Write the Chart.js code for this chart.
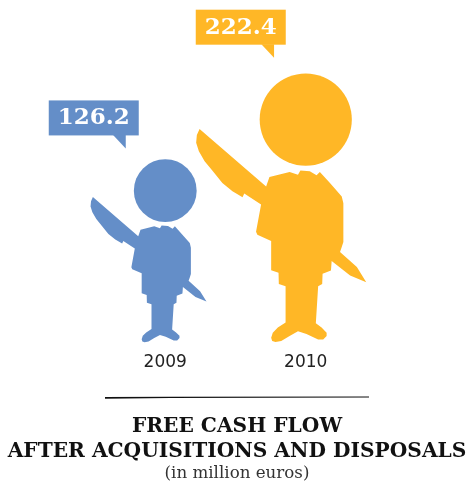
<!DOCTYPE html>
<html>
<head>
<meta charset="utf-8">
<style>
  html, body { margin: 0; padding: 0; background: #fff; }
  #wrap { width: 469px; height: 483px; }
</style>
<script src="https://cdn.jsdelivr.net/npm/chart.js@4"></script>
</head>
<body>
<div id="wrap"><canvas id="chart"></canvas></div>
<script>
const years = ["2009", "2010"];
const cashFlow = [126.2, 222.4];
const figureColors = ["#648EC8", "#FFB726"];
const titleLines = ["FREE CASH FLOW", "AFTER ACQUISITIONS AND DISPOSALS"];
const subtitleText = "(in million euros)";

// The figures are not drawn from zero in the original, the scale starts below it.
const axisMin = -79.8;
const axisMax = 293.7;

// Silhouette outline, in units of a figure 267 tall, from the feet centre.
const figureHeight = 267;
const headCentre = -221.3;
const headRadius = 45.7;
const bodyOutline = [
  [-105.3, -212], [-108, -206], [-108.7, -198.3], [-106, -190], [-100.3, -180], [-92.7, -170.7],
  [-82.7, -158.3], [-72.7, -150.3], [-62.7, -144.3], [-61, -148], [-44.3, -137], [-49.3, -110], [-48, -107],
  [-34.3, -101], [-34.3, -72], [-27, -69.3], [-26.7, -58.3], [-20, -56], [-20, -20],
  [-27.7, -15], [-32.7, -10], [-34.3, -5], [-33.3, -1.7], [-30, -0.7], [-24.3, -1.7], [-16, -6.7],
  [-7.7, -11.3], [0.7, -8.7], [12.3, -3.3], [17.3, -3.3], [20.7, -6.7], [20.7, -10], [15.7, -15],
  [10, -19.3], [12.3, -56], [16.3, -58.3], [16.7, -68.3], [25, -71.7], [25.7, -81], [44, -66.7],
  [60, -60], [50.7, -75], [34, -90], [35.7, -95], [37.3, -100], [37.3, -138.3], [35.7, -145],
  [24, -158.3], [14, -169.3], [10.7, -166], [4, -170], [-5.3, -170.7], [-7.7, -166.7],
  [-16, -169.3], [-36, -164.3], [-39.3, -155]
];

const calloutLeft = [-116.5, -110];
const calloutTipX = [-39.5, -31.7];

const figurePlugin = {
  id: "figures",
  afterDatasetsDraw(chart) {
    const ctx = chart.ctx;
    const bars = chart.getDatasetMeta(0).data;

    bars.forEach((bar, i) => {
      const scale = (bar.base - bar.y) / figureHeight;
      const color = figureColors[i];

      ctx.save();
      ctx.fillStyle = color;
      ctx.lineJoin = "round";

      ctx.beginPath();
      bodyOutline.forEach(([dx, dy], j) => {
        const px = bar.x + dx * scale;
        const py = bar.base + dy * scale;
        if (j === 0) ctx.moveTo(px, py);
        else ctx.lineTo(px, py);
      });
      ctx.closePath();
      ctx.fill();

      ctx.beginPath();
      ctx.arc(bar.x, bar.base + headCentre * scale, headRadius * scale, 0, Math.PI * 2);
      ctx.fill();

      // Speech bubble with the value, sits just above the head.
      const tipX = bar.x + calloutTipX[i];
      const tipY = bar.y - 15.7 * scale;
      const boxW = 90;
      const boxH = 35;
      const boxX = bar.x + calloutLeft[i];
      const boxY = tipY - 13 - boxH;

      ctx.fillRect(boxX, boxY, boxW, boxH);
      ctx.beginPath();
      ctx.moveTo(tipX - 12.7, boxY + boxH - 0.5);
      ctx.lineTo(tipX, tipY);
      ctx.lineTo(tipX, boxY + boxH - 0.5);
      ctx.closePath();
      ctx.fill();

      ctx.fillStyle = "#fff";
      ctx.font = "bold 23px 'DejaVu Serif'";
      ctx.textAlign = "center";
      ctx.textBaseline = "alphabetic";
      ctx.fillText(cashFlow[i].toFixed(1), boxX + boxW / 2, boxY + 24);
      ctx.restore();
    });

    // Rule above the title, a little heavier on its left end.
    ctx.save();
    ctx.fillStyle = "#111";
    ctx.beginPath();
    ctx.moveTo(105, 397);
    ctx.lineTo(170, 396.8);
    ctx.lineTo(369, 396.6);
    ctx.lineTo(369, 397.6);
    ctx.lineTo(170, 398);
    ctx.lineTo(105, 398.8);
    ctx.closePath();
    ctx.fill();
    ctx.restore();
  }
};

new Chart(document.getElementById("chart"), {
  type: "bar",
  data: {
    labels: years,
    datasets: [{
      data: cashFlow,
      base: axisMin,
      backgroundColor: "rgba(0, 0, 0, 0)",
      borderWidth: 0
    }]
  },
  plugins: [figurePlugin],
  options: {
    responsive: true,
    maintainAspectRatio: false,
    animation: false,
    layout: {
      // The title block sits slightly right of the page centre.
      padding: { top: 10, left: 5, right: 0, bottom: 0 }
    },
    plugins: {
      legend: { display: false },
      tooltip: { enabled: false },
      title: {
        display: true,
        position: "bottom",
        text: titleLines,
        color: "#111",
        font: { family: "'DejaVu Serif'", size: 20.2, weight: "bold", lineHeight: 1.25 },
        padding: { top: 39, bottom: 0 }
      },
      subtitle: {
        display: true,
        position: "bottom",
        weight: 2500,
        text: subtitleText,
        color: "#333",
        font: { family: "'DejaVu Serif'", size: 16.7, weight: "normal", lineHeight: 1.1 },
        padding: { top: 0, bottom: 0 }
      }
    },
    scales: {
      x: {
        grid: { display: false },
        border: { display: false },
        ticks: {
          color: "#222",
          padding: 2,
          font: { family: "'DejaVu Sans'", size: 17 }
        }
      },
      // Blank axes, only there to hold the plot between the two side margins.
      y: {
        min: axisMin,
        max: axisMax,
        grid: { display: false },
        border: { display: false },
        ticks: { display: false },
        afterFit: (axis) => { axis.width = 90; }
      },
      yRight: {
        position: "right",
        grid: { display: false },
        border: { display: false },
        ticks: { display: false },
        afterFit: (axis) => { axis.width = 93; }
      }
    }
  }
});
</script>
</body>
</html>
